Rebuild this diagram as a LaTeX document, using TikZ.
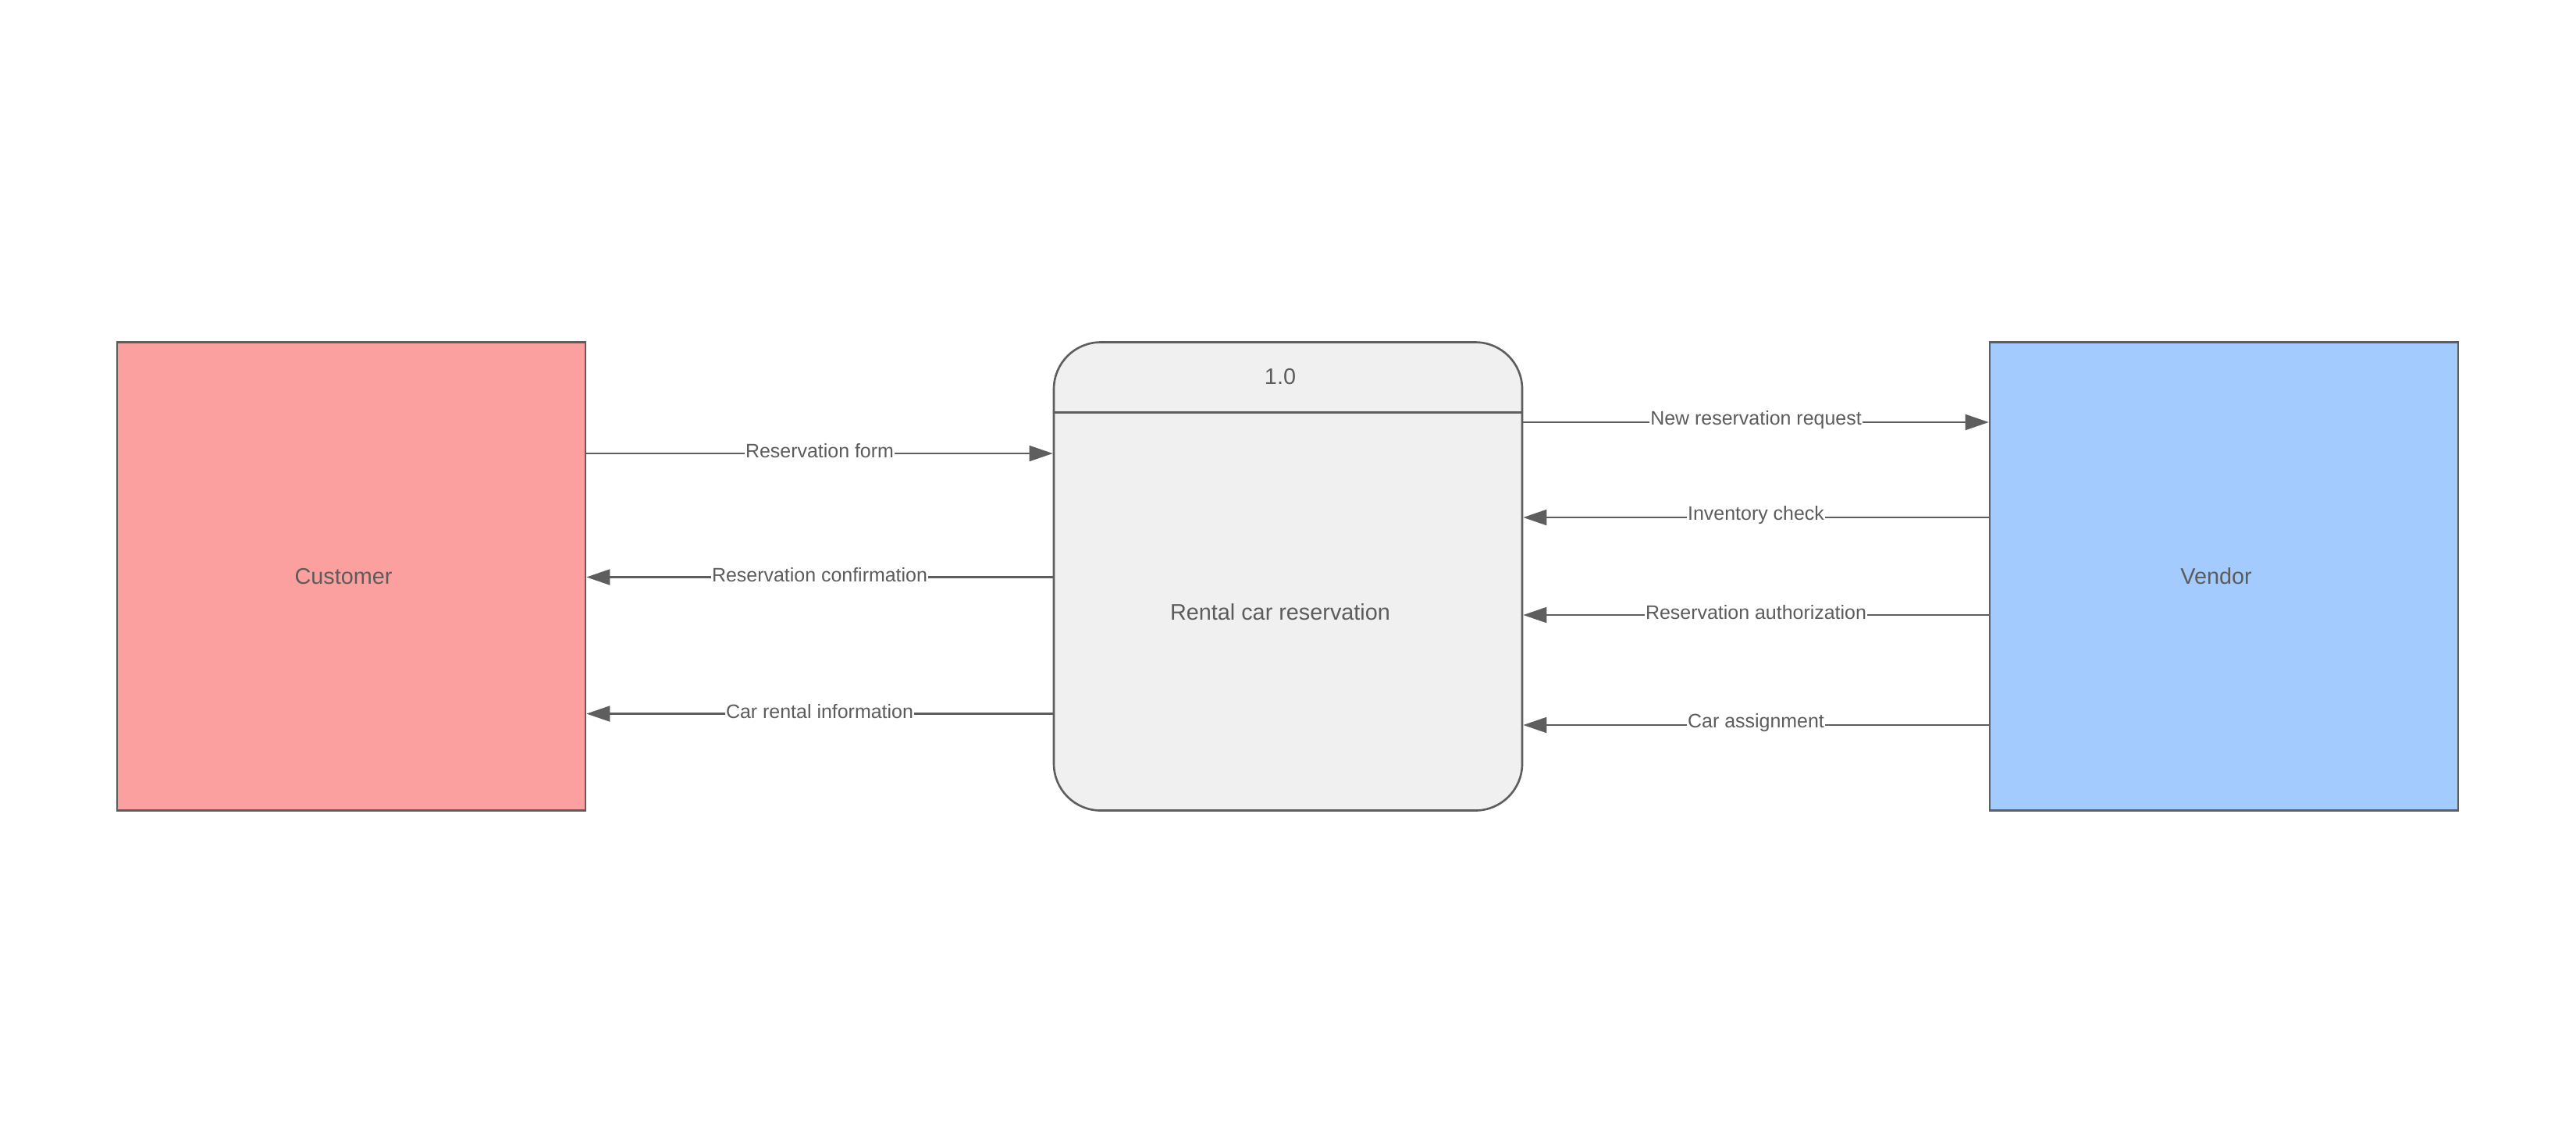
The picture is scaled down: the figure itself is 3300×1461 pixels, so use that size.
\documentclass[tikz,border=0pt]{standalone}
\usepackage{fontspec}
\setmainfont{Liberation Sans}
\usetikzlibrary{arrows.meta,positioning,calc}

\definecolor{linegray}{HTML}{5E5E5E}
\definecolor{textgray}{HTML}{5C5C5C}
\definecolor{custred}{HTML}{FBA09F}
\definecolor{vendblue}{HTML}{A4CBFE}
\definecolor{procgray}{HTML}{EFF0EF}

\begin{document}
\begin{tikzpicture}[x = 0.1mm, y = -0.1mm, text = textgray,
    entity/.style = {draw = linegray, line width = 0.75pt, minimum width = 60mm, minimum height = 60mm, inner sep = 0pt},
    process/.style = {entity, rounded corners = 6mm, fill = procgray},
    flow/.style = {line width = 0.6pt, draw = linegray, -{Triangle[length = 3mm, width = 2mm]}},
    flowlabel/.style = {fill = white, inner xsep = 0.4pt, inner ysep = 1pt, yshift = 0.3mm, font = \fontsize{7.1}{8.5}\selectfont},
    boxtext/.style = {font = \fontsize{8.2}{10}\selectfont, xshift = -1mm}]

    \useasboundingbox (0,0) rectangle (3300,1461);

    % entities and the process
    \node[entity, fill = custred] (cust) at (450,738.5) {};
    \node[process] (proc) at (1650,738.5) {};
    \node[entity, fill = vendblue] (vend) at (2849,738.5) {};

    \draw[linegray, line width = 0.75pt] ([yshift = -9.1mm]proc.north west) coordinate (divl) -- (divl -| proc.east) coordinate (divr);

    \node[boxtext] (custname) at (cust) {Customer};
    \node[boxtext] (vendname) at (vend) {Vendor};
    \node[boxtext] (procid) at ($(proc.north)!0.5!(divl -| proc.north)$) {1.0};
    \node[boxtext] (procname) at ($(divl -| proc.south)!0.5!(proc.south)$) {Rental car reservation};

    % flow levels
    \coordinate (rform) at (0,581);
    \coordinate (rconf) at (0,739.5);
    \coordinate (rinfo) at (0,914.5);
    \coordinate (newreq) at (0,541);
    \coordinate (invchk) at (0,663);
    \coordinate (rauth) at (0,788);
    \coordinate (carasg) at (0,929);

    % flows between customer and process
    \draw[flow] (cust.east |- rform) -- (proc.west |- rform) node[flowlabel, midway] (lform) {Reservation form};
    \draw[flow] (proc.west |- rconf) -- (cust.east |- rconf) node[flowlabel, midway] (lconf) {Reservation confirmation};
    \draw[flow] (proc.west |- rinfo) -- (cust.east |- rinfo) node[flowlabel, midway] (linfo) {Car rental information};

    % flows between process and vendor
    \draw[flow] (proc.east |- newreq) -- (vend.west |- newreq) node[flowlabel, midway] (lnewreq) {New reservation request};
    \draw[flow] (vend.west |- invchk) -- (proc.east |- invchk) node[flowlabel, midway] (linvchk) {Inventory check};
    \draw[flow] (vend.west |- rauth) -- (proc.east |- rauth) node[flowlabel, midway] (lrauth) {Reservation authorization};
    \draw[flow] (vend.west |- carasg) -- (proc.east |- carasg) node[flowlabel, midway] (lcarasg) {Car assignment};

\end{tikzpicture}
\end{document}
